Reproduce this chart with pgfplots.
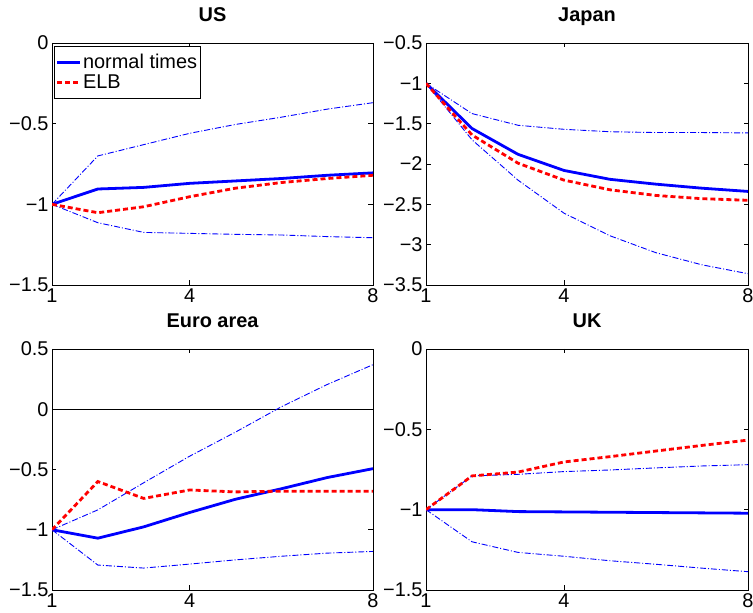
\documentclass[border=0pt]{standalone}
\usepackage{fontspec}
\setmainfont{Liberation Sans}
\usepackage{pgfplots}
\pgfplotsset{compat=1.18}
\newcommand\lblfont{\fontsize{20}{21}\selectfont}
\newcommand\ttlfont{\bfseries\fontsize{20}{21}\selectfont}
\pgfplotsset{
  panel/.style={
    scale only axis, width=321bp, height=242bp,
    xmin=1, xmax=8, xtick={1,4,8}, xticklabels={1,4,8},
    tick align=inside, tick pos=both,
    major tick length=4.5bp,
    every tick/.style={black, line width=0.6bp},
    axis line style={black, line width=0.8bp},
    tick label style={font=\lblfont},
    title style={font=\ttlfont, at={(0.5,1)}, anchor=base, yshift=16bp},
  },
  band/.style={blue, line width=0.9bp, dash pattern=on 6bp off 2bp on 1bp off 2bp, forget plot},
  nt/.style={blue, line width=2.8bp},
  elb/.style={red, line width=2.8bp, dash pattern=on 5bp off 3bp},
}
\begin{document}
\begin{tikzpicture}
\useasboundingbox (0,0) rectangle (753bp,613bp);
% US
\begin{axis}[panel, at={(52bp,328bp)}, title={US},
  ymin=-1.5, ymax=0, ytick={-1.5,-1,-0.5,0}, yticklabels={−1.5,−1,−0.5,0},
  legend cell align=left,
  legend image code/.code={\draw[#1] (0bp,0bp) -- (23bp,0bp);},
  legend style={at={(0.0062,0.988)}, anchor=north west, draw=black, line width=0.6bp,
    font=\lblfont, inner xsep=1.5bp, inner ysep=6.5bp, row sep=1.5bp,
    nodes={inner sep=1.5bp}}]
\addplot[band] coordinates {(1,-1)(2,-0.70)(3,-0.63)(4,-0.56)(5,-0.505)(6,-0.46)(7,-0.41)(8,-0.37)};
\addplot[band] coordinates {(1,-1)(2,-1.114)(3,-1.174)(4,-1.18)(5,-1.186)(6,-1.19)(7,-1.20)(8,-1.207)};
\addplot[nt] coordinates {(1,-1)(2,-0.905)(3,-0.895)(4,-0.87)(5,-0.855)(6,-0.84)(7,-0.82)(8,-0.805)};
\addplot[elb] coordinates {(1,-1)(2,-1.052)(3,-1.015)(4,-0.953)(5,-0.90)(6,-0.865)(7,-0.84)(8,-0.82)};
\legend{normal times, ELB}
\end{axis}
% Japan
\begin{axis}[panel, at={(426bp,328bp)}, width=322bp, title={Japan},
  ymin=-3.5, ymax=-0.5, ytick={-3.5,-3,-2.5,-2,-1.5,-1,-0.5},
  yticklabels={−3.5,−3,−2.5,−2,−1.5,−1,−0.5}]
\addplot[band] coordinates {(1,-1)(2,-1.375)(3,-1.52)(4,-1.57)(5,-1.60)(6,-1.61)(7,-1.61)(8,-1.615)};
\addplot[band] coordinates {(1,-1)(2,-1.70)(3,-2.20)(4,-2.61)(5,-2.89)(6,-3.10)(7,-3.25)(8,-3.36)};
\addplot[nt] coordinates {(1,-1)(2,-1.56)(3,-1.88)(4,-2.08)(5,-2.19)(6,-2.25)(7,-2.30)(8,-2.34)};
\addplot[elb] coordinates {(1,-1)(2,-1.64)(3,-1.99)(4,-2.20)(5,-2.32)(6,-2.39)(7,-2.43)(8,-2.45)};
\end{axis}
% Euro area
\begin{axis}[panel, at={(52bp,23bp)}, height=241bp, title={Euro area},
  ymin=-1.5, ymax=0.5, ytick={-1.5,-1,-0.5,0,0.5}, yticklabels={−1.5,−1,−0.5,0,0.5}]
\addplot[black, line width=0.6bp, forget plot] coordinates {(1,0)(8,0)};
\addplot[band] coordinates {(1,-1)(2,-0.835)(3,-0.61)(4,-0.39)(5,-0.19)(6,0.02)(7,0.205)(8,0.37)};
\addplot[band] coordinates {(1,-1)(2,-1.293)(3,-1.318)(4,-1.285)(5,-1.25)(6,-1.22)(7,-1.194)(8,-1.18)};
\addplot[nt] coordinates {(1,-1)(2,-1.07)(3,-0.976)(4,-0.857)(5,-0.747)(6,-0.66)(7,-0.567)(8,-0.493)};
\addplot[elb] coordinates {(1,-1)(2,-0.60)(3,-0.74)(4,-0.67)(5,-0.686)(6,-0.68)(7,-0.68)(8,-0.68)};
\end{axis}
% UK
\begin{axis}[panel, at={(426bp,23bp)}, width=322bp, height=241bp, title={UK},
  ymin=-1.5, ymax=0, ytick={-1.5,-1,-0.5,0}, yticklabels={−1.5,−1,−0.5,0}]
\addplot[band] coordinates {(1,-1)(2,-0.79)(3,-0.78)(4,-0.763)(5,-0.753)(6,-0.74)(7,-0.728)(8,-0.72)};
\addplot[band] coordinates {(1,-1)(2,-1.20)(3,-1.266)(4,-1.29)(5,-1.318)(6,-1.34)(7,-1.364)(8,-1.386)};
\addplot[nt] coordinates {(1,-1)(2,-1.0)(3,-1.012)(4,-1.014)(5,-1.016)(6,-1.018)(7,-1.02)(8,-1.022)};
\addplot[elb] coordinates {(1,-1)(2,-0.79)(3,-0.766)(4,-0.703)(5,-0.67)(6,-0.635)(7,-0.60)(8,-0.567)};
\end{axis}
\end{tikzpicture}
\end{document}
